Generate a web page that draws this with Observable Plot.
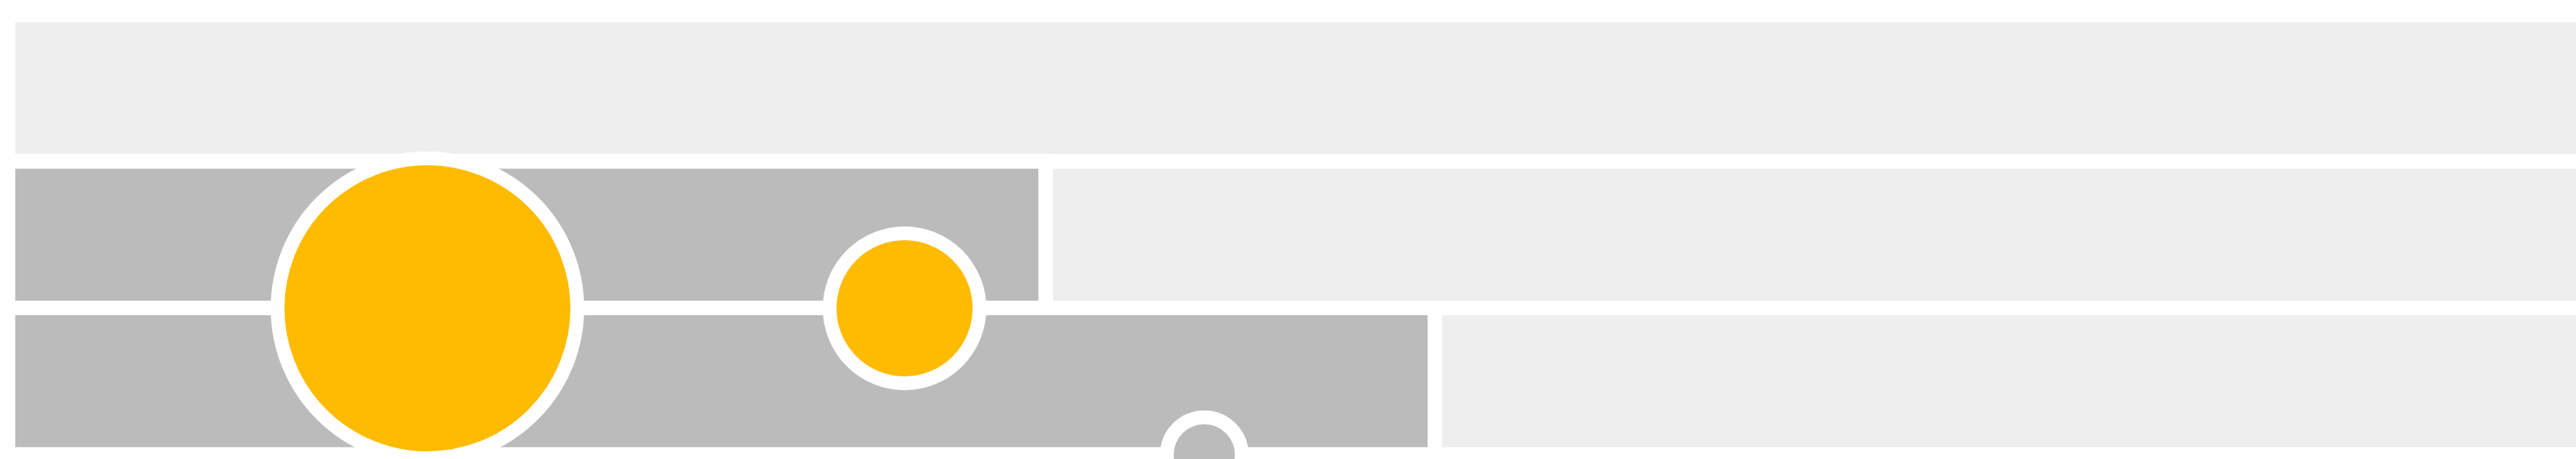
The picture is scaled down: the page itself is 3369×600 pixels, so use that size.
<!doctype html>
<style>
  body { margin: 0; overflow: hidden; background: #fff; }
</style>
<div id="myplot"></div>
<script src="https://cdn.jsdelivr.net/npm/d3@7"></script>
<script src="https://cdn.jsdelivr.net/npm/@observablehq/plot@0.6"></script>
<script>
  // three horizontal tracks, full-length light background
  const trackRows = [0, 1, 2];
  const trackEnds = [3400, 3400, 3400];

  // darker filled part of each track (row 0 has none)
  const barRows = [1, 2];
  const barEnds = [1357, 1866];

  // circles sitting on the track boundaries
  const dotX = [548, 1172, 1564];
  const dotY = [2, 2, 3];
  const dotSize = [4, 2, 1];
  const dotKind = ["highlight", "highlight", "muted"];

  const tracks = trackRows.map((row, i) => ({ row, end: trackEnds[i] }));
  const bars = barRows.map((row, i) => ({ row, end: barEnds[i] }));
  const dots = dotX.map((x, i) => ({
    x,
    y: dotY[i],
    size: dotSize[i],
    kind: dotKind[i],
  }));

  const plot = Plot.plot({
    width: 3369,
    height: 600,
    x: { domain: [0, 3358.5], range: [10.5, 3369], axis: null },
    y: { domain: [0, 3], range: [19.5, 594], axis: null },
    r: { type: "linear", domain: [0, 4], range: [0, 196] },
    color: {
      type: "ordinal",
      domain: ["highlight", "muted"],
      range: ["#ffbb00", "#bbbbbb"],
    },
    marks: [
      Plot.rect(tracks, {
        x1: 0,
        x2: "end",
        y1: "row",
        y2: (d) => d.row + 1,
        fill: "#eeeeee",
        stroke: "white",
        strokeWidth: 19,
      }),
      Plot.rect(bars, {
        x1: 0,
        x2: "end",
        y1: "row",
        y2: (d) => d.row + 1,
        fill: "#bbbbbb",
        stroke: "white",
        strokeWidth: 19,
      }),
      Plot.dot(dots, {
        x: "x",
        y: "y",
        r: "size",
        fill: "kind",
        stroke: "white",
        strokeWidth: 18,
      }),
    ],
  });

  document.querySelector("#myplot").append(plot);
</script>
